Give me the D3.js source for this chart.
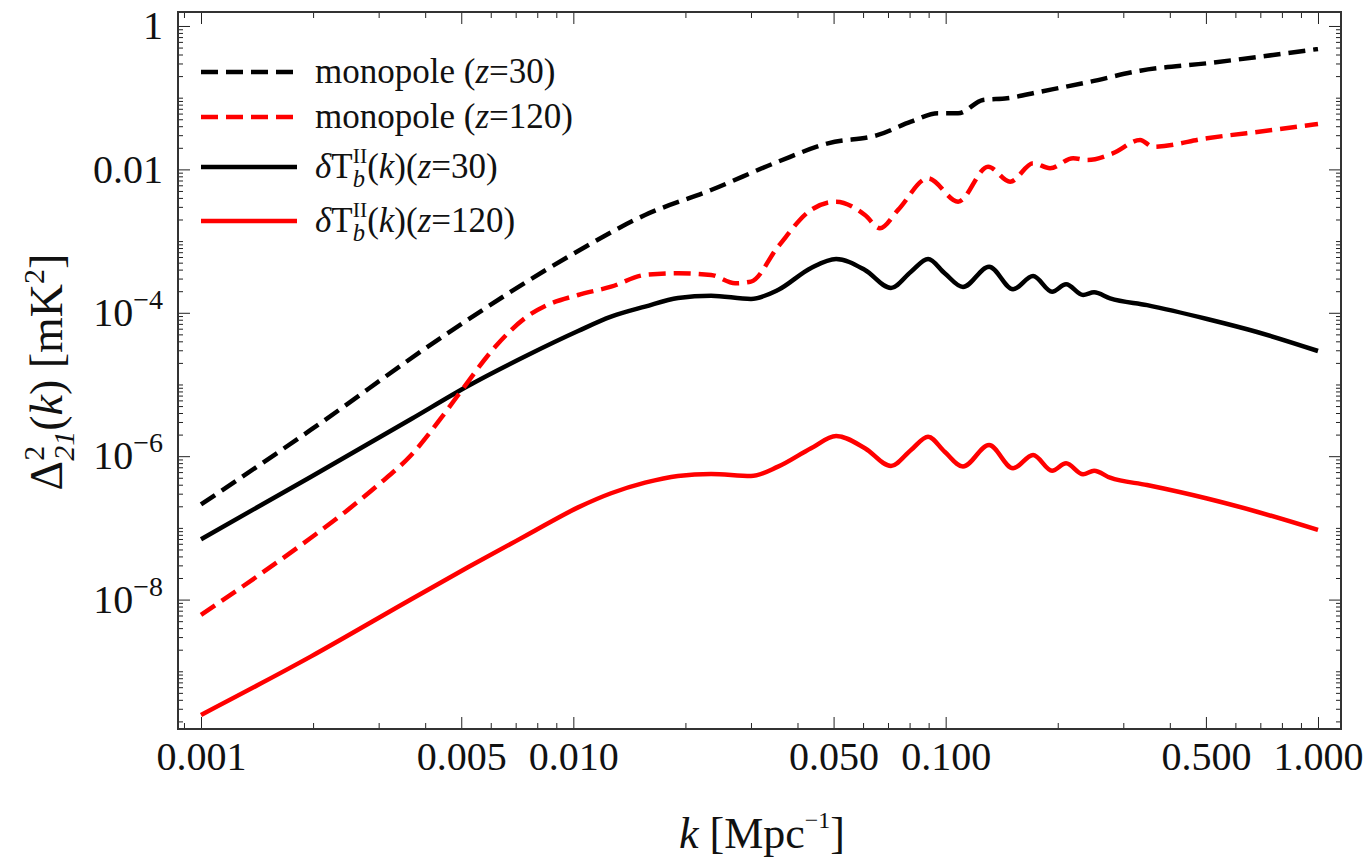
<!DOCTYPE html>
<html>
<head>
<meta charset="utf-8">
<script src="https://cdn.jsdelivr.net/npm/d3@7"></script>
<style>
  body { margin: 0; background: #fff; }
  svg text { font-family: "Liberation Serif", "Times New Roman", serif; fill: #111; }
</style>
</head>
<body>
<svg id="chart"></svg>
<script>
// k grid shared by the two delta T_b^II curves (Mpc^-1)
const kSolid = [0.001, 0.00197, 0.00367, 0.00521, 0.00755, 0.0103, 0.01263, 0.01558, 0.0191, 0.02344,
  0.0300, 0.03546, 0.0435, 0.0508, 0.0607, 0.0713, 0.0807, 0.0897, 0.0994, 0.1113,
  0.1308, 0.1517, 0.1717, 0.1931, 0.2106, 0.2339, 0.2504, 0.2764, 0.3475, 0.5036, 0.686, 1.0];
const tbZ30 = [6.93e-8, 5.13e-7, 3.30e-6, 9.53e-6, 2.58e-5, 5.57e-5, 8.83e-5, 1.22e-4, 1.61e-4, 1.73e-4,
  1.56e-4, 2.08e-4, 4.22e-4, 5.63e-4, 3.95e-4, 2.22e-4, 3.74e-4, 5.63e-4, 3.56e-4, 2.29e-4,
  4.40e-4, 2.13e-4, 3.26e-4, 1.97e-4, 2.50e-4, 1.77e-4, 1.93e-4, 1.59e-4, 1.28e-4, 8.20e-5, 5.40e-5, 2.93e-5];
const tbZ120 = [2.46e-10, 1.60e-9, 1.01e-8, 2.82e-8, 8.07e-8, 1.93e-7, 3.04e-7, 4.27e-7, 5.30e-7, 5.65e-7,
  5.30e-7, 7.14e-7, 1.29e-6, 1.91e-6, 1.29e-6, 7.30e-7, 1.22e-6, 1.87e-6, 1.15e-6, 7.18e-7,
  1.43e-6, 6.78e-7, 1.04e-6, 6.28e-7, 7.96e-7, 5.60e-7, 6.28e-7, 5.01e-7, 3.96e-7, 2.57e-7, 1.68e-7, 9.35e-8];

// monopole z=30
const kMonoZ30 = [0.001, 0.00197, 0.00452, 0.0103, 0.01558, 0.02344, 0.03546, 0.0483, 0.0658, 0.0807,
  0.0954, 0.108, 0.126, 0.1462, 0.1793, 0.2443, 0.3329, 0.5036, 0.7576, 1.0];
const monoZ30 = [2.12e-7, 2.32e-6, 4.90e-5, 7.28e-4, 2.31e-3, 5.16e-3, 1.28e-2, 2.31e-2, 3.02e-2, 4.63e-2,
  6.05e-2, 6.05e-2, 9.29e-2, 9.82e-2, 0.121, 0.167, 0.238, 0.302, 0.394, 0.478];

// monopole z=120
const kMonoZ120 = [0.001, 0.00197, 0.00244, 0.00299, 0.00367, 0.00452, 0.00502, 0.00616, 0.00755, 0.0085,
  0.0103, 0.01263, 0.01558, 0.0191, 0.02344, 0.0272, 0.0300, 0.03546, 0.0435, 0.0508,
  0.0607, 0.0666, 0.0745, 0.0897, 0.108, 0.130, 0.149, 0.1717, 0.1907, 0.2199,
  0.2398, 0.2817, 0.3329, 0.3607, 0.5036, 0.7576, 1.0];
const monoZ120 = [6.10e-9, 7.23e-8, 1.67e-7, 3.97e-7, 1.04e-6, 4.01e-6, 8.38e-6, 3.33e-5, 9.02e-5, 1.28e-4,
  1.77e-4, 2.31e-4, 3.37e-4, 3.56e-4, 3.37e-4, 2.58e-4, 2.72e-4, 8.36e-4, 2.72e-3, 3.55e-3,
  2.31e-3, 1.51e-3, 2.72e-3, 7.51e-3, 3.55e-3, 1.09e-2, 6.73e-3, 1.22e-2, 1.04e-2, 1.43e-2,
  1.35e-2, 1.68e-2, 2.57e-2, 2.07e-2, 2.72e-2, 3.55e-2, 4.30e-2];

// ticks and labels
const xTickValues = [0.001, 0.005, 0.01, 0.05, 0.1, 0.5, 1];
const xTickLabels = ["0.001", "0.005", "0.010", "0.050", "0.100", "0.500", "1.000"];
const yTickValues = [1, 1e-2, 1e-4, 1e-6, 1e-8];
const yTickLabels = ["1", "0.01", "10^\u22124", "10^\u22126", "10^\u22128"];
const legendLabels = ["monopole (z=30)", "monopole (z=120)", "\u03b4T_b^II(k)(z=30)", "\u03b4T_b^II(k)(z=120)"];

// Dimensions
const W = 1372, H = 859;
const plot = { left: 178, top: 12, right: 1341, bottom: 729 };

const svg = d3.select("#chart").attr("width", W).attr("height", H);

// Scales
const x = d3.scaleLog()
  .domain([Math.pow(10, -3.0618), Math.pow(10, 0.0618)])
  .range([plot.left, plot.right]);
const y = d3.scaleLog()
  .domain([Math.pow(10, -9.805), Math.pow(10, 0.195)])
  .range([plot.bottom, plot.top]);

const isMajor = (list, v) => list.some(t => Math.abs(t - v) / t < 1e-6);
const xMinor = x.ticks().filter(v => !isMajor(xTickValues, v));
const yMinor = [];
for (let n = -10; n <= 0; n++) {
  for (let m = 1; m <= 9; m++) {
    const v = m * Math.pow(10, n);
    if (v >= y.domain()[0] && v <= y.domain()[1] && !isMajor(yTickValues, v)) yMinor.push(v);
  }
}

const tickColor = "#222";
const fontFamily = '"Liberation Serif", "Times New Roman", serif';
const noDomain = g => g.select(".domain").remove();

// Bottom axis
svg.append("g")
  .attr("transform", `translate(0,${plot.bottom})`)
  .call(d3.axisBottom(x).tickValues(xTickValues).tickFormat((d, i) => xTickLabels[i])
    .tickSize(-12).tickSizeOuter(0).tickPadding(13))
  .call(noDomain)
  .attr("font-size", 40).attr("font-family", fontFamily).attr("color", tickColor);
svg.append("g")
  .attr("transform", `translate(0,${plot.bottom})`)
  .call(d3.axisBottom(x).tickValues(xMinor).tickFormat("").tickSize(-6).tickSizeOuter(0))
  .call(noDomain).attr("color", tickColor);

// Top axis
svg.append("g")
  .attr("transform", `translate(0,${plot.top})`)
  .call(d3.axisTop(x).tickValues(xTickValues).tickFormat("").tickSize(-12).tickSizeOuter(0))
  .call(noDomain).attr("color", tickColor);
svg.append("g")
  .attr("transform", `translate(0,${plot.top})`)
  .call(d3.axisTop(x).tickValues(xMinor).tickFormat("").tickSize(-6).tickSizeOuter(0))
  .call(noDomain).attr("color", tickColor);

// Left axis
const yAxisG = svg.append("g")
  .attr("transform", `translate(${plot.left},0)`)
  .call(d3.axisLeft(y).tickValues(yTickValues).tickFormat((d, i) => yTickLabels[i])
    .tickSize(-12).tickSizeOuter(0).tickPadding(15))
  .call(noDomain)
  .attr("font-size", 40).attr("font-family", fontFamily).attr("color", tickColor);
yAxisG.selectAll(".tick text").each(function (d, i) {
  const s = yTickLabels[i];
  if (s.includes("^")) {
    const [b, e] = s.split("^");
    const t = d3.select(this).text(null);
    t.append("tspan").text(b);
    t.append("tspan").attr("dy", -17).attr("font-size", 28).text(e);
  }
});
svg.append("g")
  .attr("transform", `translate(${plot.left},0)`)
  .call(d3.axisLeft(y).tickValues(yMinor).tickFormat("").tickSize(-5).tickSizeOuter(0))
  .call(noDomain).attr("color", tickColor);

// Right axis
svg.append("g")
  .attr("transform", `translate(${plot.right},0)`)
  .call(d3.axisRight(y).tickValues(yTickValues).tickFormat("").tickSize(-12).tickSizeOuter(0))
  .call(noDomain).attr("color", tickColor);
svg.append("g")
  .attr("transform", `translate(${plot.right},0)`)
  .call(d3.axisRight(y).tickValues(yMinor).tickFormat("").tickSize(-5).tickSizeOuter(0))
  .call(noDomain).attr("color", tickColor);

// Frame
svg.append("rect")
  .attr("x", plot.left).attr("y", plot.top)
  .attr("width", plot.right - plot.left).attr("height", plot.bottom - plot.top)
  .attr("fill", "none").attr("stroke", "#333").attr("stroke-width", 2);

// Curves
svg.append("clipPath").attr("id", "clip")
  .append("rect")
  .attr("x", plot.left).attr("y", plot.top)
  .attr("width", plot.right - plot.left).attr("height", plot.bottom - plot.top);

const line = d3.line()
  .x(d => x(d[0]))
  .y(d => y(d[1]))
  .curve(d3.curveMonotoneX);

const series = [
  { k: kSolid, v: tbZ120, color: "#ff0000", dash: null },
  { k: kSolid, v: tbZ30, color: "#000000", dash: null },
  { k: kMonoZ120, v: monoZ120, color: "#ff0000", dash: "17,8" },
  { k: kMonoZ30, v: monoZ30, color: "#000000", dash: "17,8" }
];

svg.append("g").attr("clip-path", "url(#clip)")
  .selectAll("path")
  .data(series)
  .enter()
  .append("path")
  .attr("d", s => line(s.k.map((k, i) => [k, s.v[i]])))
  .attr("fill", "none")
  .attr("stroke", s => s.color)
  .attr("stroke-width", 4.5)
  .attr("stroke-dasharray", s => s.dash)
  .attr("stroke-linejoin", "round");

// Legend
function richText(sel, str, size) {
  let shift = 0;
  str.split(/(_b\^II|[zk\u03b4])/).filter(s => s).forEach(tok => {
    if (tok === "_b^II") {
      sel.append("tspan").attr("dy", 9 - shift).attr("font-size", size * 0.7)
        .attr("font-style", "italic").text("b");
      sel.append("tspan").attr("dx", -size * 0.7 * 0.5).attr("dy", -24)
        .attr("font-size", size * 0.62).text("II");
      shift = -15;
    } else {
      const t = sel.append("tspan").attr("dy", -shift).text(tok);
      shift = 0;
      if (/^[zk\u03b4]$/.test(tok)) t.attr("font-style", "italic");
    }
  });
}

const legendColors = ["#000000", "#ff0000", "#000000", "#ff0000"];
const legendDash = ["17,8", "17,8", null, null];
const legendY = [72, 117, 167, 221];

const legend = svg.append("g");
legendLabels.forEach((lab, i) => {
  legend.append("line")
    .attr("x1", 201).attr("x2", 297)
    .attr("y1", legendY[i]).attr("y2", legendY[i])
    .attr("stroke", legendColors[i]).attr("stroke-width", 4.5)
    .attr("stroke-dasharray", legendDash[i]);
  const t = legend.append("text")
    .attr("x", 315).attr("y", legendY[i] + 11)
    .attr("font-size", 35);
  richText(t, lab, 35);
});

// Y axis label
const yl = svg.append("text")
  .attr("transform", "translate(62,372) rotate(-90)")
  .attr("text-anchor", "middle")
  .attr("font-size", 46);
yl.append("tspan").text("\u0394");
yl.append("tspan").attr("font-size", 30).attr("dy", -18).text("2");
yl.append("tspan").attr("font-size", 30).attr("dx", -15).attr("dy", 30).attr("font-style", "italic").text("21");
yl.append("tspan").attr("dy", -12).text("(");
yl.append("tspan").attr("font-style", "italic").text("k");
yl.append("tspan").text(") [mK");
yl.append("tspan").attr("font-size", 30).attr("dy", -18).text("2");
yl.append("tspan").attr("dy", 18).text("]");

// X axis label
const xl = svg.append("text")
  .attr("x", 762).attr("y", 848)
  .attr("text-anchor", "middle")
  .attr("font-size", 44);
xl.append("tspan").attr("font-style", "italic").text("k");
xl.append("tspan").text(" [Mpc");
xl.append("tspan").attr("font-size", 24).attr("dy", -20).text("\u22121");
xl.append("tspan").attr("dy", 20).text("]");
</script>
</body>
</html>
